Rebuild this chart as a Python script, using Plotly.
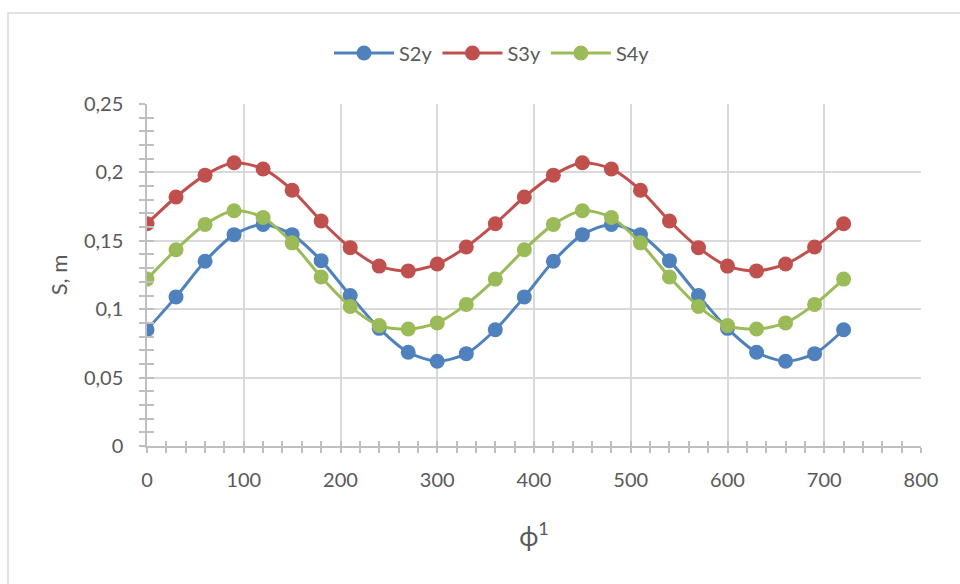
import plotly.graph_objects as go

phi = [0, 30, 60, 90, 120, 150, 180, 210, 240, 270, 300, 330, 360,
       390, 420, 450, 480, 510, 540, 570, 600, 630, 660, 690, 720]

s2y = [0.085, 0.109, 0.135, 0.1545, 0.162, 0.1545, 0.1355, 0.110, 0.086, 0.0685, 0.062, 0.0675, 0.085,
       0.109, 0.135, 0.1545, 0.162, 0.1545, 0.1355, 0.110, 0.086, 0.0685, 0.062, 0.0675, 0.085]
s3y = [0.1625, 0.182, 0.198, 0.207, 0.2025, 0.187, 0.1645, 0.145, 0.1315, 0.128, 0.133, 0.1455, 0.1625,
       0.182, 0.198, 0.207, 0.2025, 0.187, 0.1645, 0.145, 0.1315, 0.128, 0.133, 0.1455, 0.1625]
s4y = [0.122, 0.1435, 0.162, 0.172, 0.167, 0.1485, 0.1235, 0.102, 0.088, 0.0855, 0.090, 0.1035, 0.122,
       0.1435, 0.162, 0.172, 0.167, 0.1485, 0.1235, 0.102, 0.088, 0.0855, 0.090, 0.1035, 0.122]

series = [("S2y", s2y, "#4f81bd"), ("S3y", s3y, "#c0504d"), ("S4y", s4y, "#9bbb59")]

FONT = "Lato"
TXT = "#595959"
AX = "#bfbfbf"
GRID = "#d9d9d9"

fig = go.Figure()
for name, vals, col in series:
    fig.add_trace(go.Scatter(
        x=phi, y=vals, name=name, mode="lines+markers",
        line=dict(color=col, width=3, shape="spline", smoothing=0.8),
        marker=dict(color=col, size=15),
    ))

W, H = 960, 584
L, R, T, B = 147, 921, 104, 446

def px_x(px):
    return (px - L) / (R - L)

def px_y(py):
    return (B - py) / (B - T)

fig.update_layout(
    width=W, height=H,
    margin=dict(l=L, r=W - R, t=T, b=H - B, pad=0),
    paper_bgcolor="white", plot_bgcolor="white",
    separators=", ",
    font=dict(family=FONT, size=20, color=TXT),
    showlegend=True,
    legend=dict(orientation="h", x=px_x(492), xanchor="center",
                y=px_y(53), yanchor="middle",
                font=dict(family=FONT, size=20, color=TXT),
                itemwidth=60, tracegroupgap=0, bgcolor="rgba(0,0,0,0)"),
    xaxis=dict(
        range=[0, 800], dtick=100, tick0=0,
        showgrid=True, gridcolor=GRID, gridwidth=1.5,
        showline=True, linecolor=AX, linewidth=1.5,
        ticks="outside", ticklen=5, tickcolor=AX, tickwidth=1.5,
        minor=dict(dtick=20, ticks="outside", ticklen=5, tickcolor=AX, tickwidth=1.5, showgrid=False),
        zeroline=False,
        tickfont=dict(family=FONT, size=20, color=TXT),
        ticklabelstandoff=10,
        title=dict(text="ϕ<sup>1</sup>", font=dict(family=FONT, size=26, color=TXT), standoff=38),
    ),
    yaxis=dict(
        range=[0, 0.25], dtick=0.05, tick0=0,
        showgrid=True, gridcolor=GRID, gridwidth=1.5,
        showline=True, linecolor=AX, linewidth=1.5,
        ticks="outside", ticklen=6, tickcolor=AX, tickwidth=1.5,
        minor=dict(dtick=0.01, ticks="outside", ticklen=6, tickcolor=AX, tickwidth=1.5, showgrid=False),
        zeroline=False,
        tickfont=dict(family=FONT, size=20, color=TXT),
        ticklabelstandoff=12,
        title=dict(text="S, m", font=dict(family=FONT, size=22, color=TXT), standoff=10),
    ),
    xaxis2=dict(
        overlaying="x", anchor="y", range=[0, 800], dtick=100, tick0=0,
        showgrid=False, showline=False, zeroline=False, showticklabels=False,
        ticks="inside", ticklen=5, tickcolor=AX, tickwidth=1.5,
        minor=dict(dtick=20, ticks="inside", ticklen=5, tickcolor=AX, tickwidth=1.5, showgrid=False),
        side="bottom",
    ),
    yaxis2=dict(
        overlaying="y", anchor="x", range=[0, 0.25], dtick=0.05, tick0=0,
        showgrid=False, showline=False, zeroline=False, showticklabels=False,
        ticks="inside", ticklen=7, tickcolor=AX, tickwidth=1.5,
        minor=dict(dtick=0.01, ticks="inside", ticklen=7, tickcolor=AX, tickwidth=1.5, showgrid=False),
        side="left",
    ),
    shapes=[dict(type="rect", xref="paper", yref="paper",
                 x0=px_x(8), x1=px_x(975), y0=px_y(600), y1=px_y(13),
                 line=dict(color=GRID, width=1.5), fillcolor="rgba(0,0,0,0)", layer="below")],
)

fig.add_trace(go.Scatter(x=[None], y=[None], xaxis="x2", yaxis="y2", showlegend=False, hoverinfo="skip"))

fig.write_html("out.html")
